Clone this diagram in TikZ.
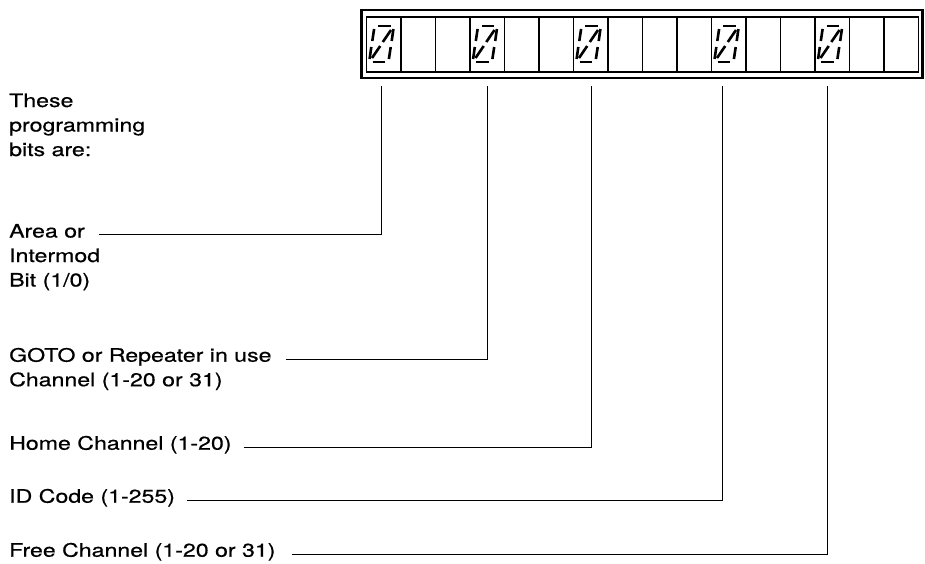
\documentclass[tikz,border=0pt]{standalone}
\usepackage{fontspec}
\setmainfont{TeX Gyre Heros}
\newfontfamily\lblfont[FakeBold=0.5]{TeX Gyre Heros}
\usepackage{graphicx}
\newcommand{\wtxt}[1]{\scalebox{1.25}[1]{#1}}
\begin{document}
\begin{tikzpicture}[x=1pt,y=-1pt,
  lbl/.style={anchor=base west, inner sep=0pt, font=\lblfont\fontsize{18.5}{22}\selectfont},
  conn/.style={line width=1pt},
  cellbox/.style={draw, line width=1.5pt, minimum width=34.5pt, minimum height=55pt, inner sep=0pt, anchor=north west},
  frame/.style={line width=2.2pt},
  seg/.style={line width=2.6pt},
  digit/.pic={
    \draw[seg] (-3.5,-18) -- (9,-18);
    \draw[seg] (-7.4,-15) -- (-9.2,-3);
    \draw[seg] (11.9,-15) -- (10.2,-3);
    \draw[seg] (-10.2,3) -- (-11.9,15);
    \draw[seg] (9.2,3) -- (7.4,15);
    \draw[seg] (-9,18) -- (3.5,18);
    \draw[seg] (1.3,-2) -- (9.5,-14);
    \draw[seg] (-9.5,14) -- (-1.3,2);
  }]
\useasboundingbox (0,0) rectangle (925,563);
% display
\draw[frame] (361.5,10) rectangle (922.5,78);
\foreach \k in {0,...,15}{
  \node[cellbox] (c\k) at ({365.5+34.5*\k},16) {};
}
\foreach \k in {0,3,6,10,13}{
  \pic at ({381.5+34.5*\k},44) {digit};
}
% connector ends
\coordinate (t1) at (381,86);
\coordinate (t2) at (487,86);
\coordinate (t3) at (591,86);
\coordinate (t4) at (722,86);
\coordinate (t5) at (827,86);
% labels
\node[lbl] (these) at (9,107) {\wtxt{These}};
\node[lbl] (prog) at (9,131.5) {\wtxt{programming}};
\node[lbl] (bits) at (9,156) {\wtxt{bits are:}};
\node[lbl] (area) at (9,237.5) {\wtxt{Area or}};
\node[lbl] (inter) at (9,262) {\wtxt{Intermod}};
\node[lbl] (bit) at (9,286.5) {\wtxt{Bit (1/0)}};
\node[lbl] (goto) at (9,361.7) {\wtxt{GOTO or Repeater in use}};
\node[lbl] (chan) at (9,386.2) {\wtxt{Channel (1-20 or 31)}};
\node[lbl] (home) at (9,449.7) {\wtxt{Home Channel (1-20)}};
\node[lbl] (id) at (9,502.7) {\wtxt{ID Code (1-255)}};
\node[lbl] (free) at (9,556.7) {\wtxt{Free Channel (1-20 or 31)}};
% connectors
\draw[conn] ([xshift=14pt]area.mid east) -| (t1);
\draw[conn] ([xshift=14pt]goto.mid east) -| (t2);
\draw[conn] ([xshift=12pt]home.mid east) -| (t3);
\draw[conn] ([xshift=12pt]id.mid east) -| (t4);
\draw[conn] ([xshift=16pt]free.mid east) -| (t5);
\end{tikzpicture}
\end{document}
